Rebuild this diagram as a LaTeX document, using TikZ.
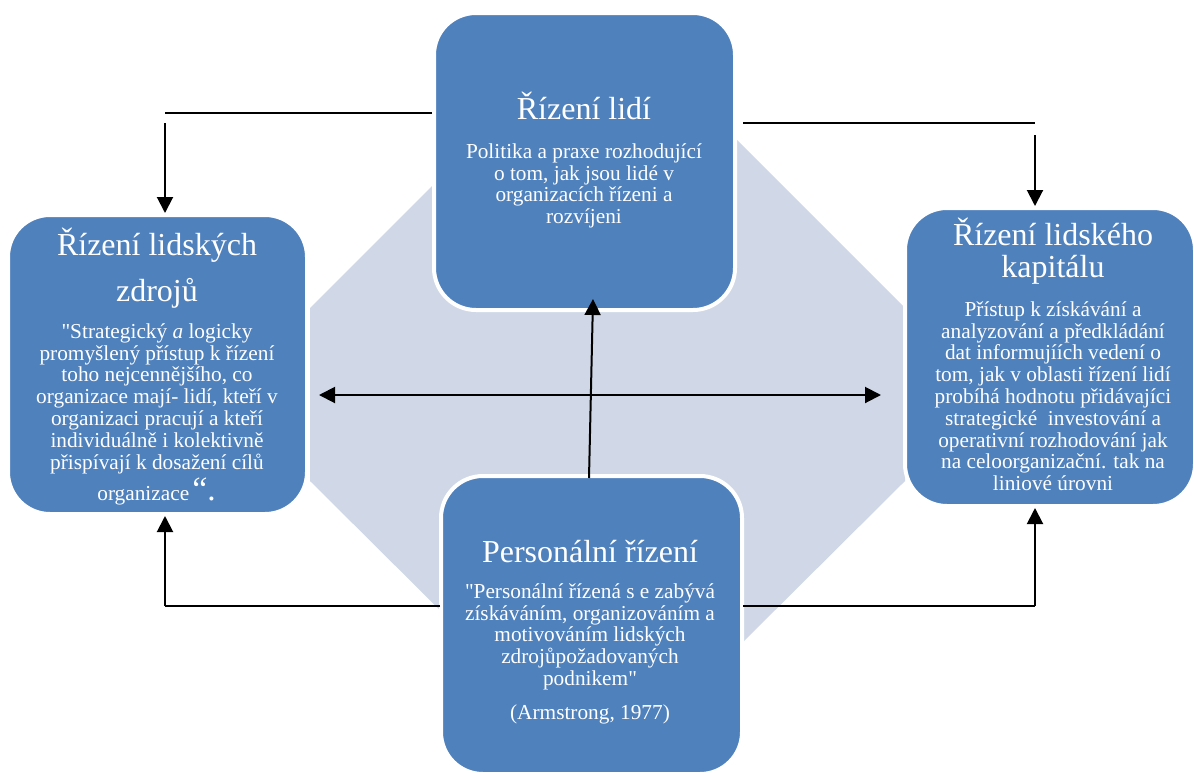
\documentclass[tikz,border=0pt]{standalone}
\usepackage{fontspec}
\setmainfont{Liberation Serif}[Ligatures=TeXOff]
\usetikzlibrary{arrows.meta}
\definecolor{boxblue}{HTML}{4F81BD}
\definecolor{octfill}{HTML}{D0D8E8}
\newcommand\tightlines{\lineskiplimit=-100pt\relax}
\newcommand\firstline[1]{\rule{0pt}{#1}}
\begin{document}
\begin{tikzpicture}[x=1pt,y=-1pt,
  hrbox/.style={draw=white,line width=4pt,fill=boxblue,rounded corners=42pt,inner sep=0pt},
  txt/.style={text=white,align=center,inner sep=0pt},
  ttl/.style={txt,font={\fontsize{32}{32}\selectfont\tightlines}},
  ttlwide/.style={txt,font={\fontsize{32}{46}\selectfont\tightlines}},
  body/.style={txt,font={\fontsize{21.3}{21.8}\selectfont\tightlines}},
  conn/.style={line width=2pt,black},
  arr/.style={conn,-{Triangle[length=16pt,width=16pt]}},
  darr/.style={conn,{Triangle[length=16pt,width=16pt]}-{Triangle[length=16pt,width=16pt]}}]
\useasboundingbox (0,0) rectangle (1194,772);

% background octagon
\fill[octfill] (478,140) -- (737,140) -- (905,308) -- (905,481) -- (737,648) -- (478,648) -- (310,481) -- (310,308) -- cycle;

% boxes
\node[hrbox,minimum width=299pt,minimum height=299pt] (lbox) at (157.5,364.5) {};
\node[hrbox,minimum width=301pt,minimum height=297pt] (tbox) at (584.5,161.5) {};
\node[hrbox,minimum width=290pt,minimum height=298pt] (rbox) at (1050,357) {};
\node[hrbox,minimum width=301pt,minimum height=298pt] (bbox) at (591.5,625) {};

% left box texts
\node[ttlwide,anchor=north] (ltitle) at (157,223) {\firstline{32pt}Řízení lidských\\zdrojů};
\node[body,anchor=north] (lbody) at (157,316.7) {\firstline{21.3pt}"Strategický \textit{a} logicky\\promyšlený přístup k řízení\\toho nejcennějšího, co\\organizace mají- lidí, kteří v\\organizaci pracují a kteří\\individuálně i kolektivně\\přispívají k dosažení cílů};
\node[body,anchor=base] (llast) at (157,500) {organizace{\fontsize{34}{34}\selectfont\itshape “.}};

% top box texts
\node[ttl,anchor=base] (ttitle) at (584,119) {Řízení lidí};
\node[body,anchor=north] (tbody) at (584,136.7) {\firstline{21.3pt}Politika a praxe rozhodující\\o tom, jak jsou lidé v\\organizacích řízeni a\\rozvíjeni};

% right box texts
\node[ttl,anchor=north] (rtitle) at (1053,213) {\firstline{32pt}Řízení lidského\\kapitálu};
\node[body,anchor=north] (rbody) at (1053,294.7) {\firstline{21.3pt}Přístup k získávání a\\analyzování a předkládání\\dat informujíích vedení o\\tom, jak v oblasti řízení lidí\\probíhá hodnotu přidávajíci\\strategické\ \ investování a\\operativní rozhodování jak\\na celoorganizační. tak na\\liniové úrovni};

% bottom box texts
\node[ttl,anchor=base] (btitle) at (590,562) {Personální řízení};
\node[body,anchor=north] (bbody) at (590,576.7) {\firstline{21.3pt}"Personální řízená s e zabývá\\získáváním, organizováním a\\motivováním lidských\\zdrojůpožadovaných\\podnikem"};
\node[body,anchor=base] (bref) at (590,719) {(Armstrong, 1977)};

% connector coordinates
\coordinate (tlcorner) at (165,113);
\coordinate (tlstart) at (165,123);
\coordinate (trstart) at (743,123);
\coordinate (trcorner) at (1035,123);
\coordinate (trdown) at (1035,135);
\coordinate (blstart) at (440,606);
\coordinate (blcorner) at (165,606);
\coordinate (brstart) at (743,606);
\coordinate (brcorner) at (1035,606);
\coordinate (hleft) at (319,395);
\coordinate (hright) at (881,395);
\coordinate (vbottom) at (589,478);
\coordinate (vtop) at (593,299);

% connectors
\draw[conn] (tbox.west |- tlcorner) -- (tlcorner);
\draw[arr] (tlstart) -- (tlstart |- lbox.north);
\draw[conn] (trstart) -- (trcorner);
\draw[arr] (trdown) -- (trdown |- rbox.north);
\draw[conn] (blstart) -- (blcorner);
\draw[arr] (blcorner) -- (blcorner |- lbox.south);
\draw[conn] (brstart) -- (brcorner);
\draw[arr] (brcorner) -- (brcorner |- rbox.south);
\draw[darr] (hleft) -- (hright);
\draw[arr] (vbottom) -- (vtop);
\end{tikzpicture}
\end{document}
